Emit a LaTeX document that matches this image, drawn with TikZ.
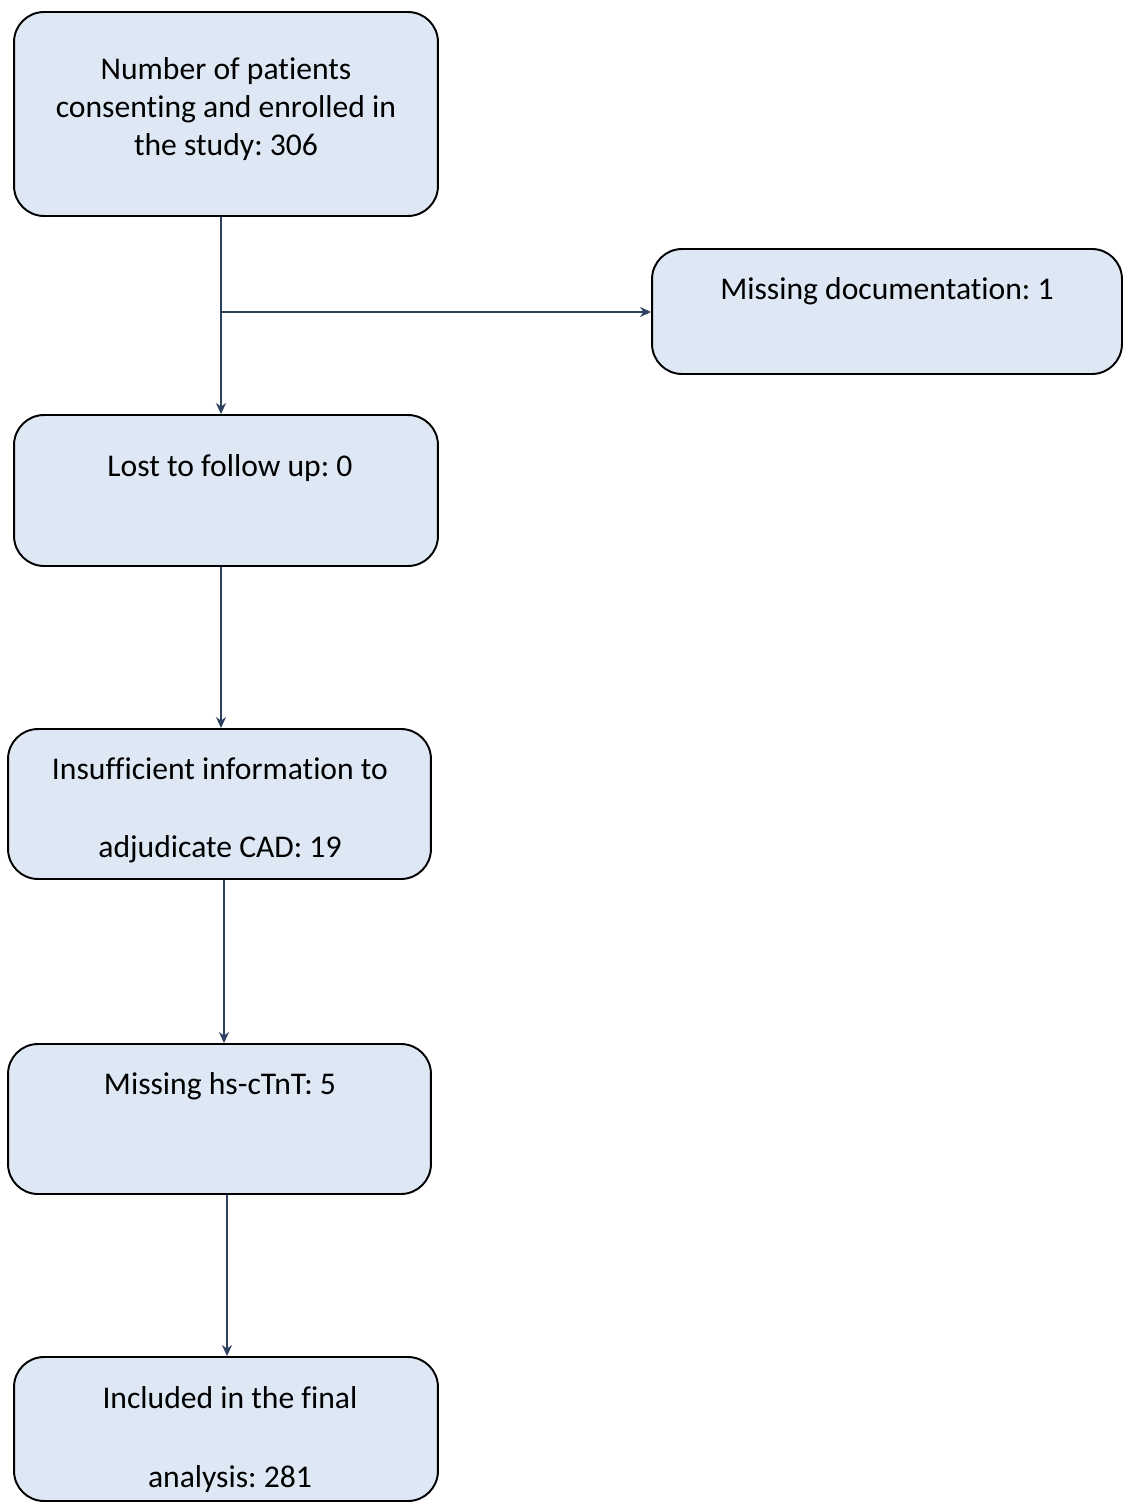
\documentclass[tikz,border=0pt]{standalone}
\usepackage{fontspec}
\setmainfont{Carlito}[Ligatures=NoCommon]
\usepackage{xcolor}
\usetikzlibrary{arrows.meta}
\definecolor{boxfill}{HTML}{DEE8F5}
\definecolor{arrowblue}{HTML}{2E4060}
\frenchspacing

\begin{document}
\begin{tikzpicture}[x=0.02cm,y=-0.02cm,
  box/.style={draw=black,line width=1.1pt,fill=boxfill,rounded corners=0.6cm,inner sep=0pt},
  txt/.style={align=center,inner sep=0pt,font=\fontsize{18}{21.6}\selectfont},
  wide/.style={align=center,inner sep=0pt,font=\fontsize{18}{44.5}\selectfont},
  arr/.style={draw=arrowblue,line width=1.4pt,-{Stealth[length=2.2mm,width=2mm]}}]
\useasboundingbox (0,0) rectangle (1124,1504);
% boxes
\node[box,minimum width=8.48cm,minimum height=4.08cm] (enrol) at (226,114) {};
\node[box,minimum width=9.40cm,minimum height=2.50cm] (missdoc) at (887,311.5) {};
\node[box,minimum width=8.48cm,minimum height=3.02cm] (lost) at (226,490.5) {};
\node[box,minimum width=8.46cm,minimum height=3.00cm] (insuf) at (219.5,804) {};
\node[box,minimum width=8.46cm,minimum height=3.00cm] (misstnt) at (219.5,1119) {};
\node[box,minimum width=8.48cm,minimum height=2.88cm] (final) at (226,1429) {};
% texts
\node[txt] (enroltxt) at (226,109) {Number of patients\\consenting and enrolled in\\the study: 306};
\node[txt] (missdoctxt) at (887,291) {Missing documentation: 1};
\node[txt] (losttxt) at (230,468) {Lost to follow up: 0};
\node[wide] (insuftxt) at (220,810) {Insufficient information to\\adjudicate CAD: 19};
\node[txt] (misstnttxt) at (220,1086) {Missing hs-cTnT: 5};
\node[wide] (finaltxt) at (230,1439.5) {Included in the final\\analysis: 281};
% connectors
\coordinate (split) at (221,312);
\draw[arr] ([xshift=-0.1cm]enrol.south) -- ([xshift=-0.1cm]enrol.south |- lost.north);
\draw[arr] (split) -- (split -| missdoc.west);
\draw[arr] ([xshift=-0.1cm]lost.south) -- ([xshift=-0.1cm]lost.south |- insuf.north);
\draw[arr] ([xshift=0.09cm]insuf.south) -- ([xshift=0.09cm]insuf.south |- misstnt.north);
\draw[arr] ([xshift=0.15cm]misstnt.south) -- ([xshift=0.15cm]misstnt.south |- final.north);
\end{tikzpicture}
\end{document}
